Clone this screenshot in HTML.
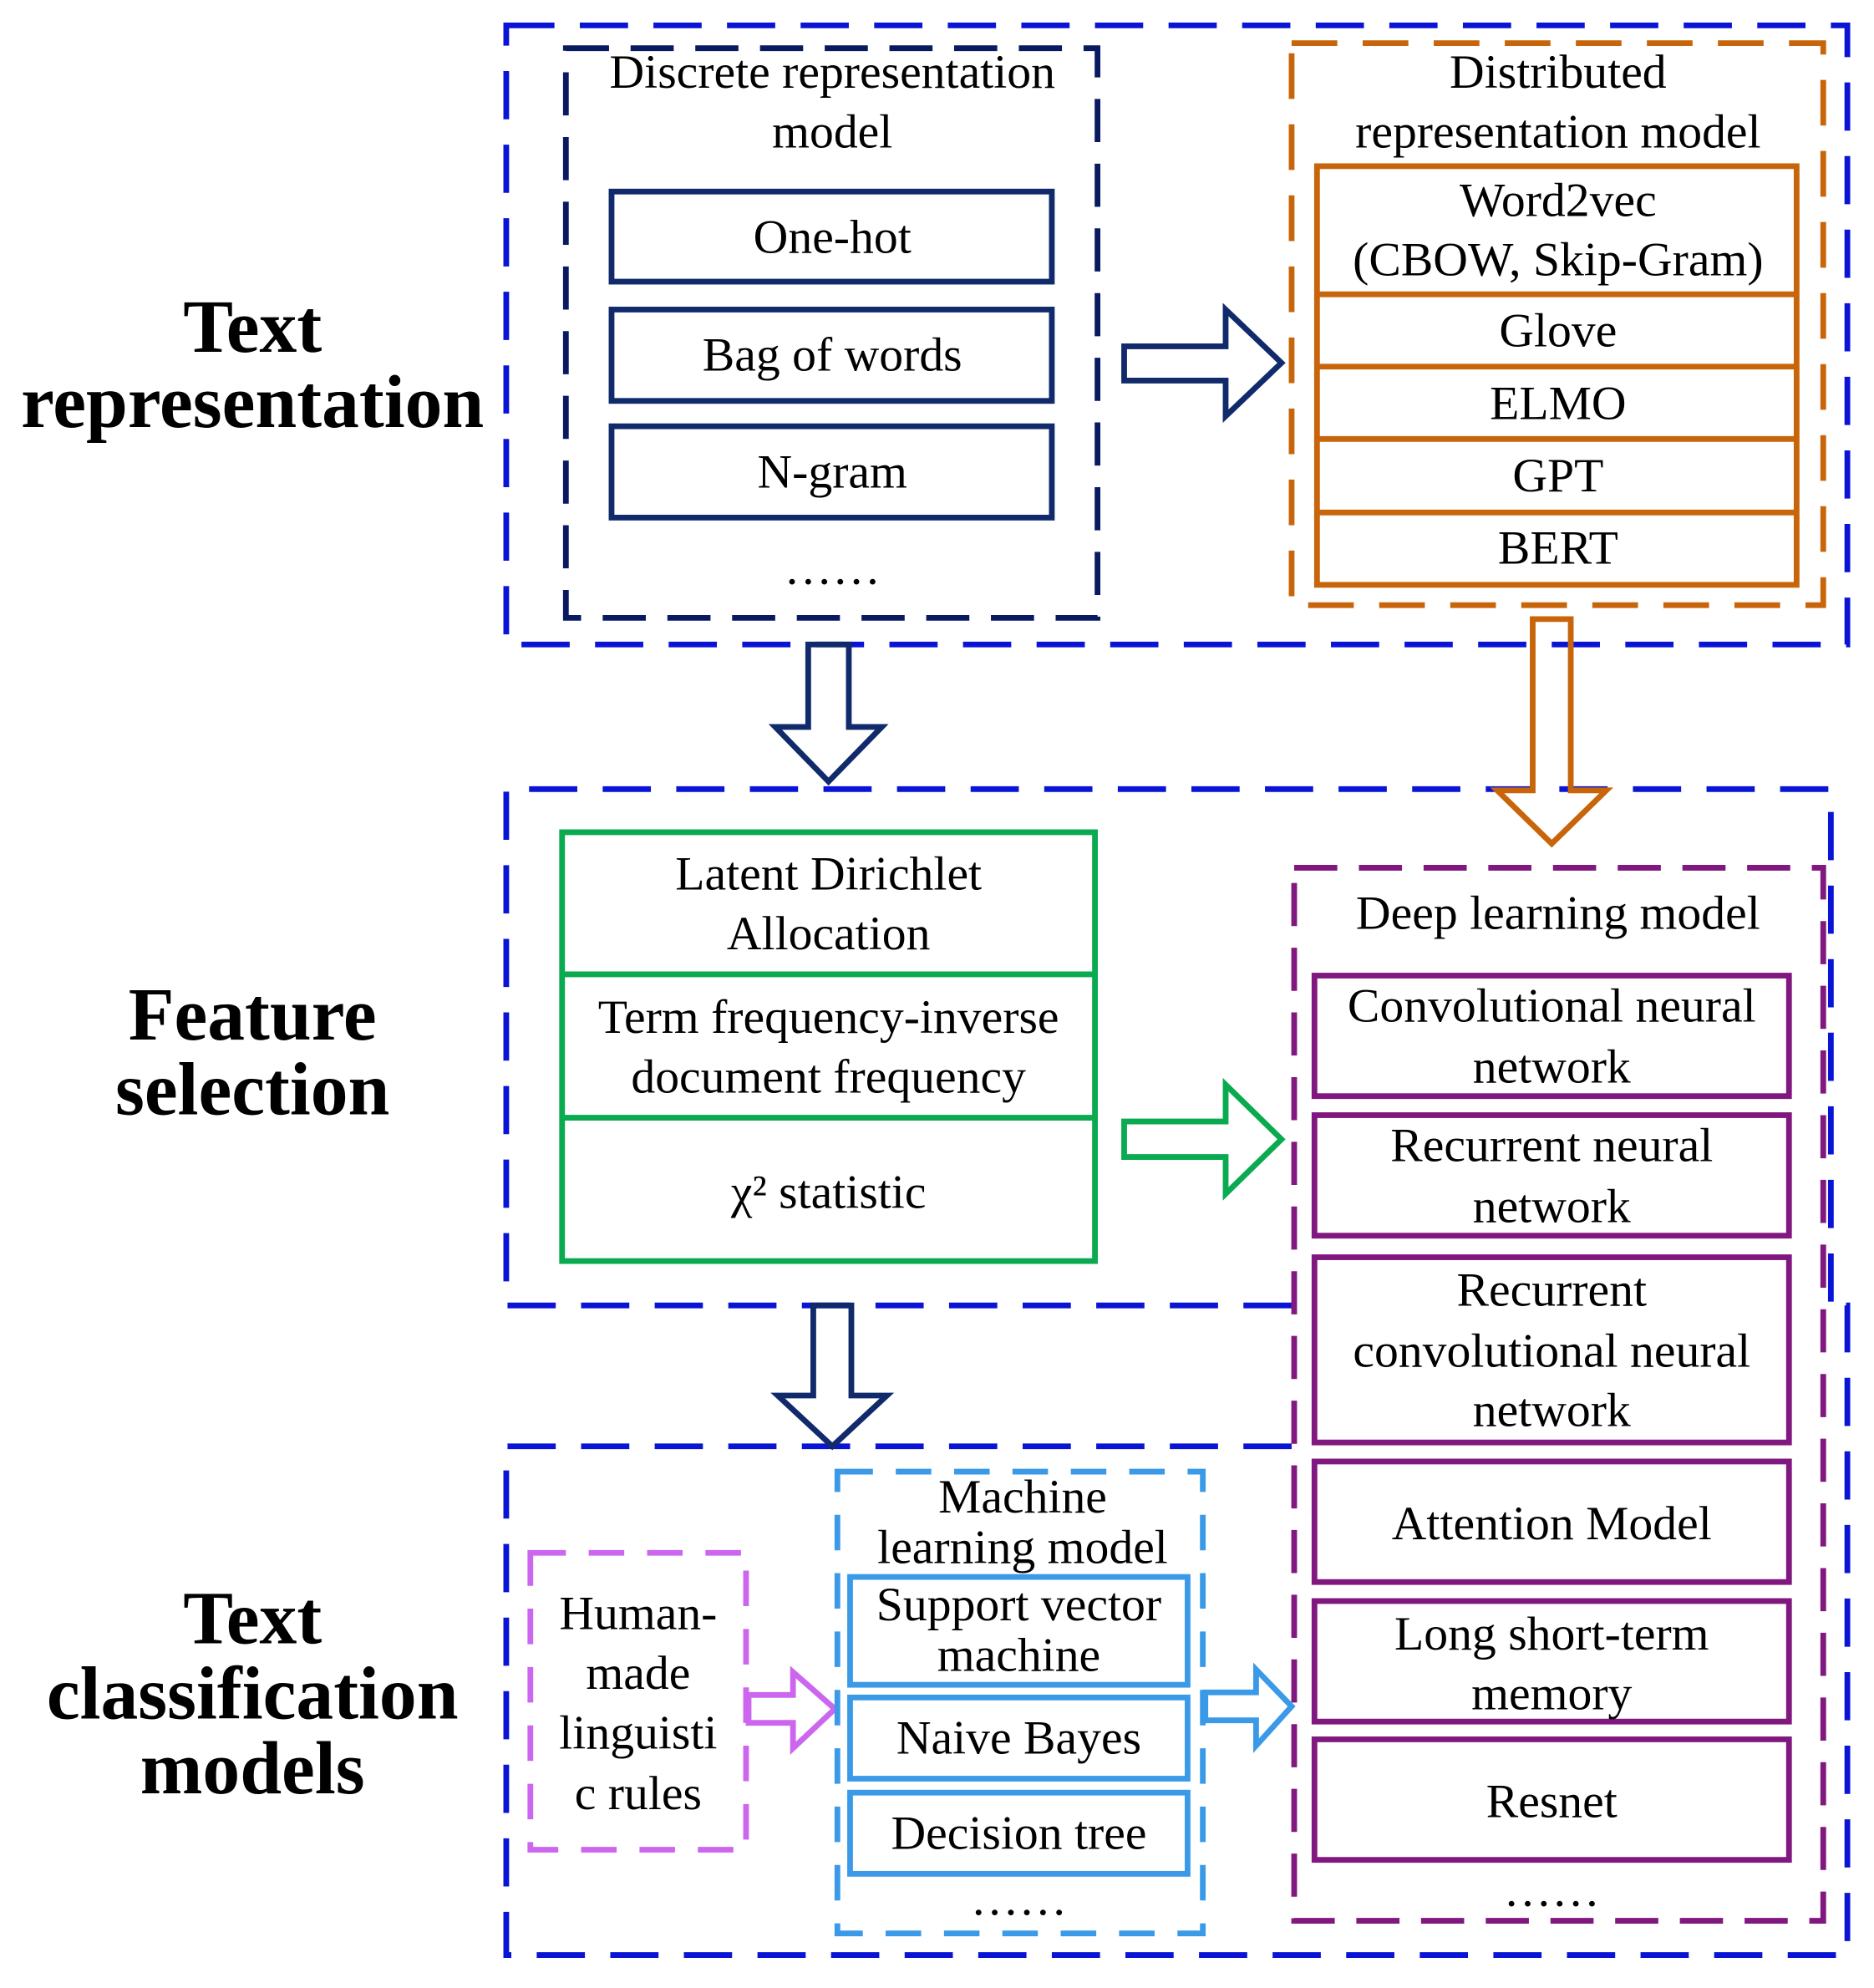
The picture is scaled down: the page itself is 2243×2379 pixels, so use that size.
<!DOCTYPE html>
<html><head><meta charset="utf-8"><style>
html,body{margin:0;padding:0;background:#fff;}
svg{display:block;}
text{font-family:"Liberation Serif",serif;font-size:38px;fill:#000;text-anchor:middle;dominant-baseline:central;}
.b{font-weight:bold;font-size:59px;}
</style></head><body>
<svg width="2243" height="2379" viewBox="0 0 1477 1567" preserveAspectRatio="none" xmlns="http://www.w3.org/2000/svg">
<g fill="none" stroke-width="4.5" stroke-linejoin="miter">
<g stroke="#0a14d4" stroke-dasharray="38 20">
<rect x="399" y="20" width="1057" height="488"/>
<path d="M1018 1029 H399 V622 H1443 V1029"/>
<path d="M1018 1140 H399 V1541 H1456 V1029 H1437"/>
</g>
<rect x="446" y="38" width="419" height="449" stroke="#0a1a60" stroke-dasharray="34 17"/>
<g stroke="#102a6b">
<rect x="482" y="151" width="347" height="71"/>
<rect x="482" y="244" width="347" height="72"/>
<rect x="482" y="336" width="347" height="72"/>
<path d="M886 273 H966 V244 L1010 286 L966 328 V300 H886 Z"/>
<path d="M637 508 V573 H611 L653 616 L695 573 H669 V508 Z"/>
<path d="M641 1029 V1100 H613 L656 1140 L699 1100 H671 V1029 Z"/>
</g>
<rect x="1018" y="34" width="419" height="443" stroke="#c8650a" stroke-dasharray="36 20"/>
<g stroke="#c8650a">
<rect x="1038" y="131" width="378" height="330"/>
<path d="M1038 232 H1416 M1038 289 H1416 M1038 346 H1416 M1038 404 H1416"/>
<path d="M1208 488 V623 H1180 L1223 665 L1266 623 H1238 V488 Z"/>
</g>
<g stroke="#0aaa50">
<rect x="443" y="656" width="420" height="338"/>
<path d="M443 768 H863 M443 881 H863"/>
<path d="M886 884 H966 V855 L1010 898 L966 941 V912 H886 Z"/>
</g>
<rect x="1020" y="684" width="417" height="830" stroke="#80187f" stroke-dasharray="34 17"/>
<g stroke="#80187f">
<rect x="1036" y="769" width="374" height="95"/>
<rect x="1036" y="879" width="374" height="95"/>
<rect x="1036" y="991" width="374" height="146"/>
<rect x="1036" y="1152" width="374" height="95"/>
<rect x="1036" y="1262" width="374" height="95"/>
<rect x="1036" y="1371" width="374" height="95"/>
</g>
<rect x="418" y="1224" width="170" height="234" stroke="#cc66ee" stroke-dasharray="28 18"/>
<path d="M590 1336 H625 V1318 L658 1347 L625 1378 V1358 H590 Z" stroke="#cc66ee"/>
<rect x="660" y="1160" width="288" height="364" stroke="#3a9ae8" stroke-dasharray="28 18"/>
<g stroke="#3a9ae8">
<rect x="670" y="1243" width="266" height="85"/>
<rect x="670" y="1338" width="266" height="64"/>
<rect x="670" y="1413" width="266" height="64"/>
<path d="M950 1334 H990 V1316 L1018 1345 L990 1376 V1356 H950 Z"/>
</g>
</g>
<text class="b" x="199" y="258">Text</text>
<text class="b" x="199" y="317">representation</text>
<text class="b" x="199" y="800">Feature</text>
<text class="b" x="199" y="859">selection</text>
<text class="b" x="199" y="1276">Text</text>
<text class="b" x="199" y="1335">classification</text>
<text class="b" x="199" y="1394">models</text>

<text x="656" y="57">Discrete representation</text>
<text x="656" y="104">model</text>
<text x="656" y="187">One-hot</text>
<text x="656" y="280">Bag of words</text>
<text x="656" y="372">N-gram</text>
<text x="656" y="448">……</text>

<text x="1228" y="57">Distributed</text>
<text x="1228" y="104">representation model</text>
<text x="1228" y="158">Word2vec</text>
<text x="1228" y="205">(CBOW, Skip-Gram)</text>
<text x="1228" y="261">Glove</text>
<text x="1228" y="318">ELMO</text>
<text x="1228" y="375">GPT</text>
<text x="1228" y="432">BERT</text>

<text x="653" y="689">Latent Dirichlet</text>
<text x="653" y="736">Allocation</text>
<text x="653" y="802">Term frequency-inverse</text>
<text x="653" y="849">document frequency</text>
<text x="653" y="940">χ² statistic</text>

<text x="1228" y="720">Deep learning model</text>
<text x="1223" y="793">Convolutional neural</text>
<text x="1223" y="841">network</text>
<text x="1223" y="903">Recurrent neural</text>
<text x="1223" y="951">network</text>
<text x="1223" y="1017">Recurrent</text>
<text x="1223" y="1065">convolutional neural</text>
<text x="1223" y="1112">network</text>
<text x="1223" y="1201">Attention Model</text>
<text x="1223" y="1288">Long short-term</text>
<text x="1223" y="1335">memory</text>
<text x="1223" y="1420">Resnet</text>
<text x="1223" y="1490">……</text>

<text x="503" y="1272">Human-</text>
<text x="503" y="1319">made</text>
<text x="503" y="1366">linguisti</text>
<text x="503" y="1414">c rules</text>

<text x="806" y="1180">Machine</text>
<text x="806" y="1220">learning model</text>
<text x="803" y="1265">Support vector</text>
<text x="803" y="1305">machine</text>
<text x="803" y="1370">Naive Bayes</text>
<text x="803" y="1445">Decision tree</text>
<text x="803" y="1497">……</text>
</svg>
</body></html>
